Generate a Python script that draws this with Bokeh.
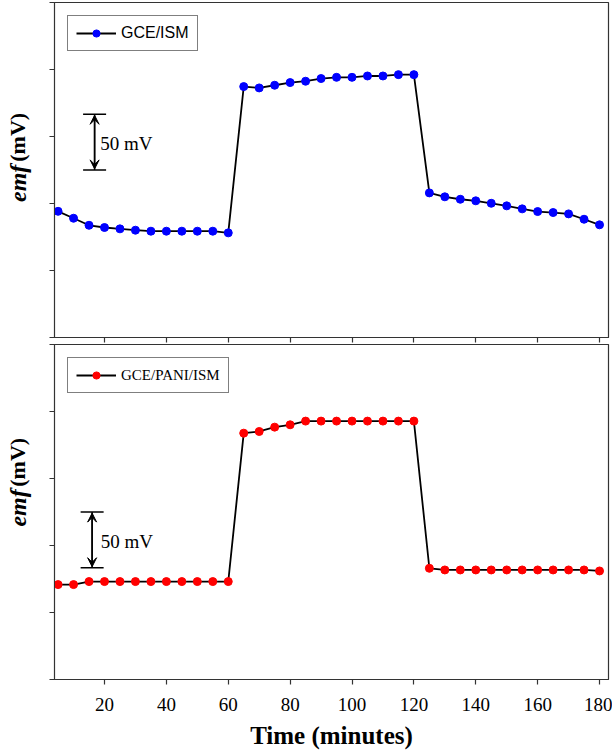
from bokeh.plotting import figure
from bokeh.layouts import column, row
from bokeh.models import (Range1d, FixedTicker, CustomJSTickFormatter, Label,
                          Arrow, VeeHead, Whisker, TeeHead)
from bokeh.embed import file_html
from bokeh.resources import INLINE

# ---------------- data ----------------
time_min = [5, 10, 15, 20, 25, 30, 35, 40, 45, 50, 55, 60,
            65, 70, 75, 80, 85, 90, 95, 100, 105, 110, 115, 120,
            125, 130, 135, 140, 145, 150, 155, 160, 165, 170, 175, 180]

emf_gce_ism = [113.0, 106.8, 100.5, 98.5, 97.3, 96.1, 95.2, 95.2, 95.2, 95.2, 95.2, 93.7,
               224.7, 223.5, 225.9, 228.3, 229.5, 231.9, 233.0, 233.0, 234.2, 234.2, 235.4, 235.4,
               129.5, 126.0, 123.8, 122.4, 120.2, 117.9, 115.2, 112.8, 111.9, 110.7, 105.9, 100.9]

emf_gce_pani_ism = [85.0, 85.0, 87.7, 87.7, 87.7, 87.7, 87.7, 87.7, 87.7, 87.7, 87.7, 87.7,
                    220.6, 222.1, 226.0, 228.1, 231.4, 231.4, 231.4, 231.4, 231.4, 231.4, 231.4, 231.4,
                    99.6, 98.1, 98.1, 98.1, 98.1, 98.1, 98.1, 98.1, 98.1, 98.1, 98.1, 97.2]

x_ticks = [20, 40, 60, 80, 100, 120, 140, 160, 180]
y_ticks = [0, 60, 120, 180, 240, 300]

series_labels = ["GCE/ISM", "GCE/PANI/ISM"]
x_title = "Time (minutes)"
y_title_italic = "emf"
y_title_unit = "(mV)"
scale_text = "50 mV"

SERIF = "Liberation Serif"
SANS = "Liberation Sans"

LABEL_W = 34
xr = Range1d(3.84, 182.9)


def make_panel(values, color, label, legend_font, legend_size, show_x_labels, bar,
               border_bottom, border_top):
    p = figure(frame_width=554, frame_height=335, x_range=xr, y_range=Range1d(0, 300),
               output_backend="svg", toolbar_location=None,
               min_border_left=54 - LABEL_W, min_border_right=4,
               min_border_top=border_top, min_border_bottom=border_bottom)
    p.grid.visible = False
    p.outline_line_color = "#333333"
    p.outline_line_width = 1.2
    p.background_fill_color = "white"

    for ax in (p.xaxis, p.yaxis):
        ax.minor_tick_line_color = None
        ax.major_tick_out = 5
        ax.major_tick_in = 0
        ax.axis_line_color = "#333333"
        ax.major_tick_line_color = "#333333"
        ax.major_tick_line_width = 1.2

    p.xaxis.ticker = FixedTicker(ticks=x_ticks)
    p.yaxis.ticker = FixedTicker(ticks=y_ticks)
    p.yaxis.formatter = CustomJSTickFormatter(code="return ''")
    p.yaxis.major_label_standoff = 0
    if show_x_labels:
        p.xaxis.major_label_text_font = SERIF
        p.xaxis.major_label_text_font_size = "19px"
        p.xaxis.major_label_text_color = "black"
        p.xaxis.major_label_standoff = 13
        p.xaxis.axis_label = x_title
        p.xaxis.axis_label_text_font = SERIF
        p.xaxis.axis_label_text_font_size = "25px"
        p.xaxis.axis_label_text_font_style = "bold"
        p.xaxis.axis_label_text_color = "black"
        p.xaxis.axis_label_standoff = 8
    else:
        p.xaxis.formatter = CustomJSTickFormatter(code="return ''")
        p.xaxis.major_label_standoff = 0

    p.line(time_min, values, line_color="black", line_width=1.8, legend_label=label)
    p.scatter(time_min, values, size=8, fill_color=color, line_color=color, legend_label=label)

    lg = p.legend[0]
    lg.location = "top_left"
    lg.margin = 13
    lg.padding = 8
    lg.glyph_width = 40
    lg.glyph_height = 18
    lg.label_standoff = 5
    lg.label_text_font = legend_font
    lg.label_text_font_size = legend_size
    lg.label_text_color = "black"
    lg.border_line_color = "black"
    lg.border_line_width = 1
    lg.background_fill_alpha = 1

    # 50 mV scale bar
    bx, blo, bhi, tx, ty = bar
    p.add_layout(Whisker(base=bx, lower=blo, upper=bhi, dimension="height",
                         line_color="black", line_width=1.5,
                         upper_head=TeeHead(size=23, line_width=1.5, line_color="black"),
                         lower_head=TeeHead(size=23, line_width=1.5, line_color="black")))
    p.add_layout(Arrow(x_start=bx, y_start=(blo + bhi) / 2, x_end=bx, y_end=bhi - 1,
                       line_color="black", line_width=1.5,
                       end=VeeHead(size=9, fill_color="black", line_color="black")))
    p.add_layout(Arrow(x_start=bx, y_start=(blo + bhi) / 2, x_end=bx, y_end=blo + 1,
                       line_color="black", line_width=1.5,
                       end=VeeHead(size=9, fill_color="black", line_color="black")))
    p.add_layout(Label(x=tx, y=ty, text=scale_text, text_font=SERIF, text_font_size="19px",
                       text_baseline="middle", text_align="left", text_color="black"))
    return p


def make_ylabel(height, split_from_top):
    # narrow figure holding the rotated y-axis title (pixel-like data units)
    q = figure(width=LABEL_W, height=height, x_range=Range1d(0, LABEL_W),
               y_range=Range1d(0, height), output_backend="svg", toolbar_location=None,
               min_border=0)
    q.axis.visible = False
    q.grid.visible = False
    q.outline_line_color = None
    ys = height - split_from_top
    q.add_layout(Label(x=17, y=ys - 1.5, text=y_title_italic, angle=90, angle_units="deg",
                       text_align="right", text_baseline="middle", text_font=SERIF,
                       text_font_size="24px", text_font_style="bold italic",
                       text_color="black"))
    q.add_layout(Label(x=17, y=ys + 1.5, text=y_title_unit, angle=90, angle_units="deg",
                       text_align="left", text_baseline="middle", text_font=SERIF,
                       text_font_size="22px", text_font_style="bold", text_color="black"))
    return q


top = make_panel(emf_gce_ism, "#0000FF", series_labels[0], SANS, "16px", False,
                 (16.8, 150, 200, 18.6, 174), 7, 2)
bot = make_panel(emf_gce_pani_ism, "#FF0000", series_labels[1], SERIF, "15px", True,
                 (16.0, 100, 150, 18.8, 124), 0, 0)

lab_top = make_ylabel(344, 165)
lab_bot = make_ylabel(400, 175)

layout = column(row(lab_top, top, spacing=0), row(lab_bot, bot, spacing=0), spacing=0)
open("out.html", "w").write(file_html(layout, INLINE))
